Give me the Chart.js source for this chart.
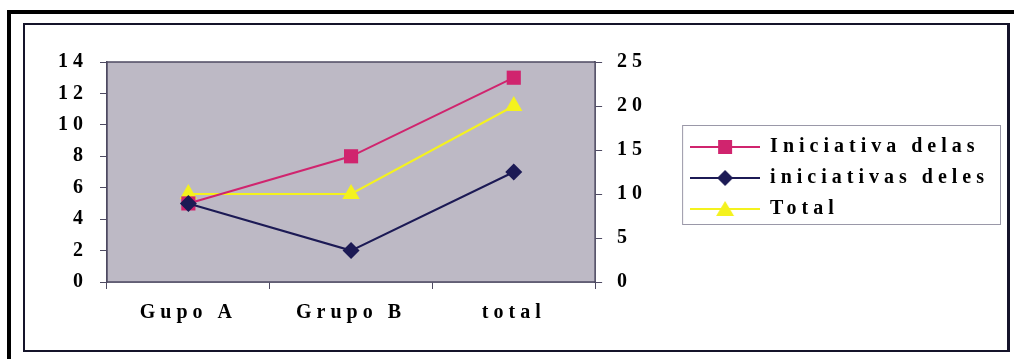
<!DOCTYPE html>
<html>
<head>
<meta charset="utf-8">
<script src="https://cdn.jsdelivr.net/npm/chart.js@4/dist/chart.umd.min.js"></script>
<style>
body { margin: 0; width: 1014px; height: 359px; overflow: hidden; background: #fff; position: relative; }
#outer { position: absolute; left: 7px; top: 10px; width: 1100px; height: 400px; border: 4px solid #000; }
#inner { position: absolute; left: 23px; top: 23px; width: 982px; height: 325px; border: 2px solid #15142a; border-right-width: 3px; }
canvas { position: absolute; left: 0; top: 0; }
</style>
</head>
<body>
<div id="outer"></div>
<div id="inner"></div>
<canvas id="chart" width="1014" height="359"></canvas>
<script>
const categories = ['Gupo A', 'Grupo B', 'total'];
const delas = [5, 8, 13];
const deles = [5, 2, 7];
const totalSerie = [10, 10, 20];

const pink = '#d0246e';
const navy = '#1c1a55';
const yellow = '#f4f21e';
const axisColor = '#4e4a62';

// petit dessin ligne + marqueur pour la légende
function legendIcon(color, style) {
    const c = document.createElement('canvas');
    c.width = 70;
    c.height = 20;
    const g = c.getContext('2d');
    g.strokeStyle = color;
    g.lineWidth = 2;
    g.beginPath();
    g.moveTo(0, 10);
    g.lineTo(70, 10);
    g.stroke();
    g.fillStyle = color;
    g.beginPath();
    if (style === 'rect') {
        g.rect(28, 3, 14, 14);
    } else if (style === 'rectRot') {
        g.moveTo(35, 2); g.lineTo(43, 10); g.lineTo(35, 18); g.lineTo(27, 10);
    } else {
        g.moveTo(35, 2); g.lineTo(44, 17); g.lineTo(26, 17);
    }
    g.closePath();
    g.fill();
    return c;
}
const icons = [legendIcon(pink, 'rect'), legendIcon(navy, 'rectRot'), legendIcon(yellow, 'triangle')];

// le scan est étiré horizontalement : on espace les lettres
const spacing = {
    id: 'spacing',
    beforeUpdate(chart) { chart.ctx.letterSpacing = '5px'; },
    beforeDraw(chart) { chart.ctx.letterSpacing = '5px'; }
};

const plotBox = {
    id: 'plotBox',
    beforeDatasetsDraw(chart) {
        const a = chart.chartArea;
        const ctx = chart.ctx;
        ctx.save();
        ctx.fillStyle = '#bdb9c5';
        ctx.fillRect(a.left, a.top, a.right - a.left, a.bottom - a.top);
        ctx.strokeStyle = axisColor;
        ctx.lineWidth = 1.5;
        ctx.strokeRect(a.left, a.top, a.right - a.left, a.bottom - a.top);
        ctx.restore();
    }
};

const legendBox = {
    id: 'legendBox',
    afterDraw(chart) {
        const boxes = chart.legend.legendHitBoxes;
        if (!boxes || !boxes.length) return;
        const left = Math.min(...boxes.map(b => b.left)) - 8;
        const top = Math.min(...boxes.map(b => b.top)) - 12;
        const right = Math.max(...boxes.map(b => b.left + b.width)) + 11;
        const bottom = Math.max(...boxes.map(b => b.top + b.height)) + 5;
        const ctx = chart.ctx;
        ctx.save();
        ctx.strokeStyle = '#9a98a8';
        ctx.lineWidth = 1;
        ctx.strokeRect(left + 0.5, top + 0.5, right - left, bottom - top);
        ctx.restore();
    }
};

Chart.defaults.color = '#000';
Chart.defaults.font.family = '"Liberation Serif", "Times New Roman", serif';
Chart.defaults.font.weight = 'bold';
Chart.defaults.font.size = 20;

new Chart(document.getElementById('chart'), {
    type: 'line',
    data: {
        labels: categories,
        datasets: [
            {
                label: 'Iniciativa delas',
                data: delas,
                yAxisID: 'y',
                borderColor: pink,
                backgroundColor: pink,
                borderWidth: 2,
                pointStyle: 'rect',
                pointRadius: 10,
                pointBorderWidth: 0,
                order: 2
            },
            {
                label: 'iniciativas deles',
                data: deles,
                yAxisID: 'y',
                borderColor: navy,
                backgroundColor: navy,
                borderWidth: 2,
                pointStyle: 'rectRot',
                pointRadius: 8.5,
                pointBorderWidth: 0,
                order: 1
            },
            {
                label: 'Total',
                data: totalSerie,
                yAxisID: 'y2',
                borderColor: yellow,
                backgroundColor: yellow,
                borderWidth: 2,
                pointStyle: 'triangle',
                pointRadius: 10,
                pointBorderWidth: 0,
                order: 3
            }
        ]
    },
    options: {
        responsive: false,
        animation: false,
        layout: { padding: { left: 0, right: 15, top: 62, bottom: 22 } },
        plugins: {
            tooltip: { enabled: false },
            legend: {
                position: 'right',
                align: 'start',
                maxWidth: 420,
                title: { display: true, text: '', padding: { top: 0, bottom: 40 }, font: { size: 20 } },
                labels: {
                    usePointStyle: true,
                    pointStyleWidth: 70,
                    padding: 11,
                    color: '#000',
                    font: { size: 20, weight: 'bold' },
                    sort: (a, b) => a.datasetIndex - b.datasetIndex,
                    generateLabels(chart) {
                        const items = Chart.defaults.plugins.legend.labels.generateLabels(chart);
                        items.forEach(it => { it.pointStyle = icons[it.datasetIndex]; });
                        return items;
                    }
                }
            }
        },
        scales: {
            x: {
                offset: true,
                grid: { drawOnChartArea: false, tickLength: 7, color: axisColor, offset: true },
                border: { color: axisColor, width: 1.5 },
                ticks: { padding: 12, maxRotation: 0, font: { size: 20, weight: 'bold' } }
            },
            y: {
                position: 'left',
                min: 0,
                max: 14,
                ticks: { stepSize: 2, padding: 12, font: { size: 20, weight: 'bold' } },
                grid: { drawOnChartArea: false, tickLength: 7, color: axisColor },
                border: { color: axisColor, width: 1.5 },
                afterFit(scale) { scale.width = 107; }
            },
            y2: {
                position: 'right',
                min: 0,
                max: 25,
                ticks: { stepSize: 5, padding: 15, font: { size: 20, weight: 'bold' } },
                grid: { drawOnChartArea: false, tickLength: 7, color: axisColor },
                border: { color: axisColor, width: 1.5 },
                afterFit(scale) { scale.width = 84; }
            }
        }
    },
    plugins: [spacing, plotBox, legendBox]
});
</script>
</body>
</html>
